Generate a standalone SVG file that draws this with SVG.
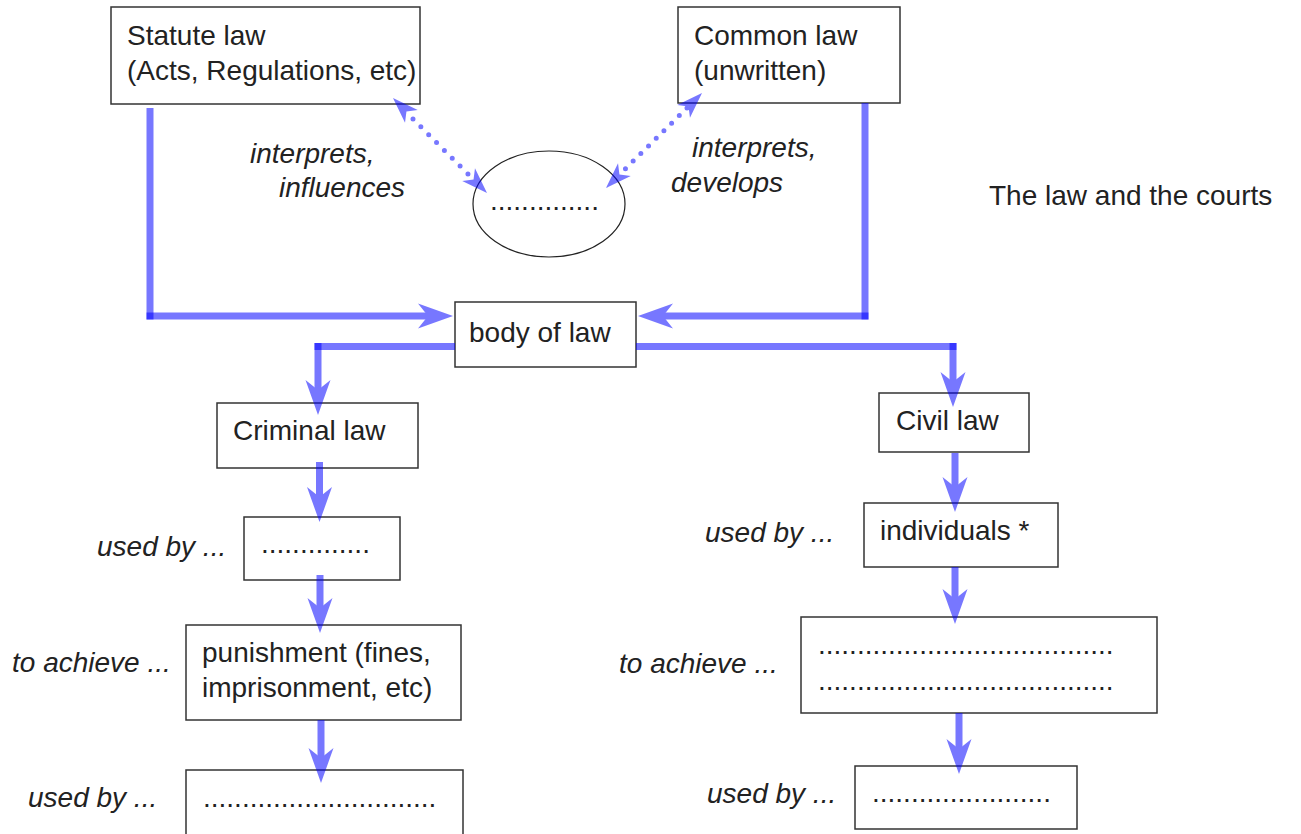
<svg xmlns="http://www.w3.org/2000/svg" width="1301" height="834" viewBox="0 0 1301 834">
<style>
.box{fill:#fff;stroke:#333;stroke-width:1.5}
.t{font-family:"Liberation Sans",Arial,sans-serif;font-size:28px;fill:#222}
.i{font-style:italic}
.c{opacity:.53}
.c line{stroke:#00f;stroke-width:7}
.c use{fill:#00f}
.dot{stroke:#00f;stroke-width:5;stroke-linecap:round;fill:none}
</style>
<defs>
<path id="ah" d="M0,0 L-12.5,-35 L0,-25 L12.5,-35 Z"/>
<path id="ahs" d="M0,0 L-9,-26 L0,-19 L9,-26 Z"/>
</defs>
<rect width="1301" height="834" fill="#fff"/>

<g id="statute"><rect class="box" x="111" y="7" width="309" height="97"/>
<text class="t" x="127" y="45">Statute law</text><text class="t" x="127" y="80">(Acts, Regulations, etc)</text></g>
<g id="common"><rect class="box" x="678" y="7" width="222" height="96"/>
<text class="t" x="694" y="45">Common law</text><text class="t" x="694" y="80">(unwritten)</text></g>
<g id="courts"><ellipse cx="549" cy="204" rx="76" ry="53" fill="#fff" stroke="#222" stroke-width="1.2"/>
<text class="t" x="490" y="210">..............</text></g>
<g id="body"><rect class="box" x="455" y="302" width="181" height="65"/><text class="t" x="469" y="342">body of law</text></g>
<g id="criminal"><rect class="box" x="217" y="403" width="201" height="65"/><text class="t" x="233" y="440">Criminal law</text></g>
<g id="crim-used"><rect class="box" x="244" y="517" width="156" height="63"/><text class="t" x="261" y="553">..............</text></g>
<g id="punish"><rect class="box" x="186" y="625" width="275" height="95"/>
<text class="t" x="202" y="662">punishment (fines,</text><text class="t" x="202" y="697">imprisonment, etc)</text></g>
<g id="crim-used2"><rect class="box" x="186" y="770" width="277" height="70"/><text class="t" x="203" y="807">..............................</text></g>
<g id="civil"><rect class="box" x="879" y="393" width="150" height="59"/><text class="t" x="896" y="430">Civil law</text></g>
<g id="indiv"><rect class="box" x="864" y="503" width="194" height="64"/><text class="t" x="880" y="540">individuals *</text></g>
<g id="civ-achieve"><rect class="box" x="801" y="617" width="356" height="96"/>
<text class="t" x="818" y="654">......................................</text><text class="t" x="818" y="690">......................................</text></g>
<g id="civ-used2"><rect class="box" x="855" y="766" width="222" height="63"/><text class="t" x="872" y="802">.......................</text></g>

<g id="labels">
<text class="t i" x="250" y="163">interprets,</text>
<text class="t i" x="279" y="197">influences</text>
<text class="t i" x="692" y="157">interprets,</text>
<text class="t i" x="671" y="192">develops</text>
<text class="t" x="989" y="205">The law and the courts</text>
<text class="t i" x="97" y="556">used by ...</text>
<text class="t i" x="12" y="672">to achieve ...</text>
<text class="t i" x="28" y="807">used by ...</text>
<text class="t i" x="705" y="542">used by ...</text>
<text class="t i" x="619" y="673">to achieve ...</text>
<text class="t i" x="707" y="803">used by ...</text>
</g>

<g id="connectors">
<g class="c"><line x1="150" y1="108" x2="150" y2="319.5"/></g>
<g class="c"><line x1="146.5" y1="316" x2="430" y2="316"/><use href="#ah" transform="translate(453,316) rotate(-90)"/></g>
<g class="c"><line x1="865" y1="103" x2="865" y2="319.5"/></g>
<g class="c"><line x1="868.5" y1="316" x2="661" y2="316"/><use href="#ah" transform="translate(638,316) rotate(90)"/></g>
<g class="c"><line x1="455" y1="346.5" x2="314.5" y2="346.5"/></g>
<g class="c"><line x1="318" y1="343" x2="318" y2="395"/><use href="#ah" transform="translate(318,415)"/></g>
<g class="c"><line x1="636" y1="346.5" x2="956.5" y2="346.5"/></g>
<g class="c"><line x1="953" y1="343" x2="953" y2="387"/><use href="#ah" transform="translate(953,407)"/></g>
<g class="c"><line x1="319.5" y1="462" x2="319.5" y2="502"/><use href="#ah" transform="translate(319.5,522)"/></g>
<g class="c"><line x1="320" y1="575" x2="320" y2="613"/><use href="#ah" transform="translate(320,633)"/></g>
<g class="c"><line x1="321" y1="720" x2="321" y2="763"/><use href="#ah" transform="translate(321,783)"/></g>
<g class="c"><line x1="955" y1="453" x2="955" y2="492"/><use href="#ah" transform="translate(955,512)"/></g>
<g class="c"><line x1="955" y1="567" x2="955" y2="604"/><use href="#ah" transform="translate(955,624)"/></g>
<g class="c"><line x1="959" y1="713" x2="959" y2="754"/><use href="#ah" transform="translate(959,774)"/></g>
<g class="c">
<path class="dot" d="M413,119 L468,174" stroke-dasharray="0 11.1"/>
<use href="#ahs" fill="#00f" transform="translate(393,98) rotate(135)"/>
<use href="#ahs" fill="#00f" transform="translate(487,193) rotate(-45)"/>
</g>
<g class="c">
<path class="dot" d="M687,108 L618,176" stroke-dasharray="0 10.8"/>
<use href="#ahs" fill="#00f" transform="translate(702,93) rotate(-135)"/>
<use href="#ahs" fill="#00f" transform="translate(606,188) rotate(45)"/>
</g>
</g>
</svg>
